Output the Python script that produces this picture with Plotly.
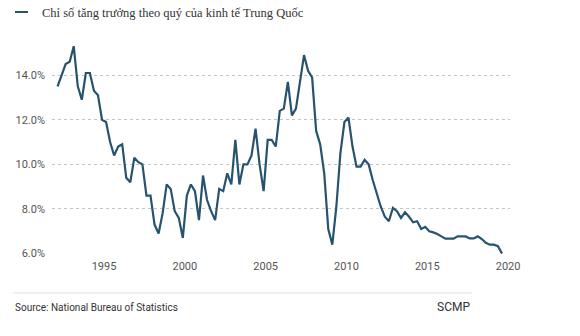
import plotly.graph_objects as go

# Quarterly GDP growth (%), 1992Q1 .. 2019Q3
years = list(range(1992, 2020))
growth = [
    13.5, 14.0, 14.5, 14.6,   # 1992
    15.3, 13.5, 12.9, 14.1,   # 1993
    14.1, 13.3, 13.1, 12.0,   # 1994
    11.9, 11.0, 10.4, 10.8,   # 1995
    10.9, 9.4, 9.2, 10.3,     # 1996
    10.1, 10.0, 8.6, 8.6,     # 1997
    7.3, 6.9, 7.8, 9.1,       # 1998
    8.9, 7.9, 7.6, 6.7,       # 1999
    8.6, 9.1, 8.8, 7.5,       # 2000
    9.5, 8.4, 7.9, 7.5,       # 2001
    8.9, 8.8, 9.6, 9.1,       # 2002
    11.1, 9.1, 10.0, 10.0,    # 2003
    10.4, 11.6, 10.0, 8.8,    # 2004
    11.1, 11.1, 10.8, 12.4,   # 2005
    12.5, 13.7, 12.2, 12.5,   # 2006
    13.7, 14.9, 14.2, 13.9,   # 2007
    11.5, 10.9, 9.6, 7.1,     # 2008
    6.4, 8.1, 10.5, 11.9,     # 2009
    12.1, 10.8, 9.9, 9.9,     # 2010
    10.2, 10.0, 9.3, 8.7,     # 2011
    8.1, 7.65, 7.45, 8.05,    # 2012
    7.9, 7.6, 7.85, 7.65,     # 2013
    7.4, 7.45, 7.1, 7.2,      # 2014
    7.0, 6.95, 6.88, 6.77,    # 2015
    6.67, 6.67, 6.67, 6.77,   # 2016
    6.77, 6.77, 6.68, 6.68,   # 2017
    6.77, 6.65, 6.48, 6.4,    # 2018
    6.4, 6.33, 6.0,           # 2019
]
quarters = [1, 2, 3, 4]

x_vals = []
for y in years:
    for q in quarters:
        x_vals.append(y + (q - 0.5) / 4)
x_vals = x_vals[:len(growth)]

y_ticks = [6, 8, 10, 12, 14]
y_labels = ["6.0%", "8.0%", "10.0%", "12.0%", "14.0%"]
x_ticks = [1995, 2000, 2005, 2010, 2015, 2020]
x_labels = ["1995", "2000", "2005", "2010", "2015", "2020"]
legend_label = "Chỉ số tăng trưởng theo quý của kinh tế Trung Quốc"
source_text = "Source: National Bureau of Statistics"
brand_text = "SCMP"

LINE = "#27536f"
TICK = "#555555"

fig = go.Figure()
fig.add_trace(go.Scatter(
    x=x_vals, y=growth, mode="lines",
    line=dict(color=LINE, width=2.2),
    name=legend_label, showlegend=False, hoverinfo="skip",
))

fig.update_layout(
    width=580, height=336,
    margin=dict(l=52, r=70, t=44, b=82),
    paper_bgcolor="white", plot_bgcolor="white",
    font=dict(family="Roboto", size=11, color=TICK),
    xaxis=dict(
        range=[1991.78, 2020.12], tickvals=x_ticks, ticktext=x_labels,
        showgrid=False, zeroline=False, showline=False, ticks="",
        ticklabelstandoff=4,
        tickfont=dict(family="Roboto", size=11, color=TICK),
        fixedrange=True,
    ),
    yaxis=dict(
        range=[5.98, 15.4], tickvals=y_ticks, ticktext=y_labels,
        showgrid=True, gridcolor="#c4c4c4", griddash="dot", gridwidth=1,
        zeroline=False, showline=False, ticks="",
        ticklabelstandoff=6,
        tickfont=dict(family="Roboto", size=11, color=TICK),
        fixedrange=True,
    ),
)

# legend-like header
fig.add_shape(type="line", xref="paper", yref="paper",
              x0=(15 - 52) / 458, x1=(28 - 52) / 458,
              y0=(336 - 82 - 12) / 210, y1=(336 - 82 - 12) / 210,
              line=dict(color=LINE, width=2))
fig.add_annotation(text=legend_label, xref="paper", yref="paper",
                   x=(40 - 52) / 458, y=(336 - 82 - 12.5) / 210,
                   xanchor="left", yanchor="middle", showarrow=False,
                   font=dict(family="Liberation Serif", size=12.5, color="#333333"))

# footer
fig.add_shape(type="line", xref="paper", yref="paper",
              x0=(13 - 52) / 458, x1=(472 - 52) / 458,
              y0=(336 - 82 - 293) / 210, y1=(336 - 82 - 293) / 210,
              line=dict(color="#e2e2e2", width=1))
fig.add_annotation(text=source_text, xref="paper", yref="paper",
                   x=(13 - 52) / 458, y=(336 - 82 - 307) / 210,
                   xanchor="left", yanchor="middle", showarrow=False,
                   font=dict(family="Roboto", size=10, color="#333333"))
fig.add_annotation(text=brand_text, xref="paper", yref="paper",
                   x=(472 - 52) / 458, y=(336 - 82 - 307) / 210,
                   xanchor="right", yanchor="middle", showarrow=False,
                   font=dict(family="Roboto", size=12, color="#333333"))

fig.write_html("out.html")
